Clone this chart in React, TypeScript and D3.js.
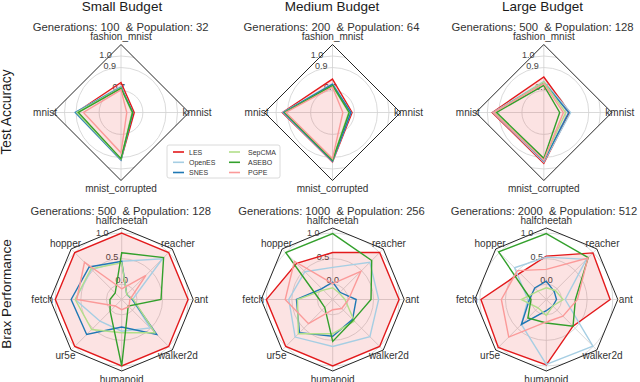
import React from "react";
import * as d3 from "d3";

const W = 640;
const H = 382;
const FONT = "'Liberation Sans', Arial, sans-serif";

const budgets = ["Small Budget", "Medium Budget", "Large Budget"];
const visionSubtitles = [
  "Generations: 100  & Population: 32",
  "Generations: 200  & Population: 64",
  "Generations: 500  & Population: 128",
];
const braxSubtitles = [
  "Generations: 500  & Population: 128",
  "Generations: 1000  & Population: 256",
  "Generations: 2000  & Population: 512",
];
const rowLabels = ["Test Accuracy", "Brax Performance"];

const methods = ["LES", "OpenES", "SNES", "SepCMA", "ASEBO", "PGPE"];
const methodColors = ["#e31a1c", "#a6cee3", "#1f78b4", "#b2df8a", "#33a02c", "#fb9a99"];

const visionTasks = ["fashion_mnist", "kmnist", "mnist_corrupted", "mnist"];
const visionTicks = [0.7, 0.9, 1.0];
const visionTickLabels = ["0.7", "0.9", "1.0"];
const visionDomain = [0.51, 1.1];

const braxTasks = ["halfcheetah", "reacher", "ant", "walker2d", "humanoid", "ur5e", "fetch", "hopper"];
const braxTicks = [0.0, 0.5, 1.0];
const braxTickLabels = ["0.0", "0.5", "1.0"];
const braxDomain = [-0.3, 1.1];

// rows: LES, OpenES, SNES, SepCMA, ASEBO, PGPE
const visionSmall = [
  [0.77, 0.625, 0.92, 0.9],
  [0.735, 0.61, 0.925, 0.91],
  [0.73, 0.612, 0.92, 0.905],
  [0.725, 0.605, 0.915, 0.895],
  [0.72, 0.61, 0.91, 0.88],
  [0.706, 0.56, 0.86, 0.836],
];
const visionMedium = [
  [0.8, 0.68, 0.94, 0.945],
  [0.76, 0.67, 0.935, 0.94],
  [0.755, 0.67, 0.93, 0.935],
  [0.74, 0.65, 0.92, 0.925],
  [0.745, 0.655, 0.925, 0.925],
  [0.73, 0.6, 0.91, 0.915],
];
const visionLarge = [
  [0.818, 0.735, 0.95, 0.957],
  [0.78, 0.743, 0.94, 0.95],
  [0.77, 0.726, 0.93, 0.94],
  [0.775, 0.7, 0.92, 0.935],
  [0.746, 0.648, 0.908, 0.92],
  [0.76, 0.68, 0.925, 0.945],
];

const braxSmall = [
  [1, 1, 1, 1, 1, 1, 1, 1],
  [0.45, 0.83, -0.09, 0.49, 0.32, 0.3, 0.61, 0.53],
  [0.45, -0.16, -0.09, 0.67, 0.24, 0.67, 0.69, 0.6],
  [0.42, -0.16, -0.07, 0.62, 0.35, 0.53, 0.61, 0.55],
  [0.615, 0.86, 0.47, -0.12, 1.0, 0.02, -0.07, -0.12],
  [-0.09, 0.37, -0.14, -0.1, -0.1, -0.12, 0.58, 0.73],
];
const braxMedium = [
  [0.62, 1.0, 1.0, 1.0, 1.0, 1.0, 1.0, 0.7],
  [0.33, 0.73, 0.6, 0.73, 0.62, 0.74, 0.56, 0.47],
  [0.04, -0.1, 0.16, 0.25, 0.42, 0.62, 0.41, 0.0],
  [-0.07, -0.12, -0.06, 0.3, 0.37, 0.65, 0.39, -0.04],
  [0.99, 0.78, 0.45, 0.27, 0.52, -0.08, -0.04, 1.0],
  [0.01, 0.48, 0.01, -0.05, -0.1, 0.37, 0.63, 0.76],
];
const braxLarge = [
  [0.55, 0.99, 0.95, 0.44, 0.98, 1.03, 0.98, 0.43],
  [0.53, 0.81, 0.07, 0.99, 0.97, 0.39, 0.06, 0.58],
  [0.06, -0.08, -0.1, -0.12, -0.08, 0.39, 0.03, 0.02],
  [-0.07, -0.05, 0.03, -0.12, 0.01, -0.07, 0.19, -0.07],
  [0.99, 0.86, 0.27, 0.44, 0.16, 0.21, 0.0, 1.02],
  [0.29, 0.85, 0.31, 0.16, 0.14, 0.74, 0.58, 0.5],
];

const visionData = [visionSmall, visionMedium, visionLarge];
const braxData = [braxSmall, braxMedium, braxLarge];

const topX = [121, 332.5, 543.8];
const botX = [121.7, 332.7, 546.3];
const titleX = [122, 332, 542.5];
const subTopX = [120.7, 331.5, 542.5];
const subBotX = [120.7, 331.5, 544];

type RadarProps = {
  id: string;
  cx: number;
  cy: number;
  R: number;
  tasks: string[];
  domain: number[];
  ticks: number[];
  tickLabels: string[];
  series: number[][];
};

function Radar({ id, cx, cy, R, tasks, domain, ticks, tickLabels, series }: RadarProps) {
  const n = tasks.length;
  const angle = d3.scaleLinear().domain([0, n]).range([0, 2 * Math.PI]);
  const r = d3.scaleLinear().domain(domain).range([0, R]);
  const vertices: [number, number][] = tasks.map((_, i) => [
    R * Math.sin(angle(i)),
    -R * Math.cos(angle(i)),
  ]);
  const framePath = d3.line().curve(d3.curveLinearClosed)(vertices) || "";
  const radial = d3
    .lineRadial<number>()
    .angle((_, i) => angle(i))
    .radius((d) => r(d))
    .curve(d3.curveLinearClosed);
  const labelR = R + 8;
  const labelAngle = -Math.PI / 8;

  return (
    <g transform={`translate(${cx},${cy})`}>
      <defs>
        <clipPath id={id}>
          <path d={framePath} />
        </clipPath>
      </defs>
      <path d={framePath} fill="#ffffff" stroke="none" />
      <g clipPath={`url(#${id})`}>
        {ticks.map((t, i) => (
          <circle key={i} r={r(t)} fill="none" stroke="#d0d0d0" strokeWidth={0.8} />
        ))}
      </g>
      {vertices.map((v, i) => (
        <line key={i} x1={0} y1={0} x2={v[0]} y2={v[1]} stroke="#d0d0d0" strokeWidth={0.8} />
      ))}
      {ticks.map((t, i) => (
        <text
          key={i}
          x={r(t) * Math.sin(labelAngle) + 6}
          y={-r(t) * Math.cos(labelAngle) - 5}
          textAnchor="middle"
          dominantBaseline="central"
          fontSize={9}
          fontFamily={FONT}
          fill="#444"
        >
          {tickLabels[i]}
        </text>
      ))}
      <path d={radial(series[0]) || ""} fill={methodColors[0]} fillOpacity={0.12} stroke="none" />
      {series.map((s, k) => (
        <path
          key={k}
          d={radial(s) || ""}
          fill="none"
          stroke={methodColors[k]}
          strokeWidth={1.4}
          strokeLinejoin="miter"
        />
      ))}
      <path d={framePath} fill="none" stroke="#262626" strokeWidth={1} />
      {tasks.map((t, i) => (
        <text
          key={t}
          x={labelR * Math.sin(angle(i))}
          y={-labelR * Math.cos(angle(i))}
          textAnchor="middle"
          dominantBaseline="central"
          fontSize={10}
          fontFamily={FONT}
          fill="#333"
        >
          {t}
        </text>
      ))}
    </g>
  );
}

function Legend() {
  const x0 = 167;
  const y0 = 145;
  const rows = 3;
  const colLineX = [173, 229];
  const colTextX = [189, 248];
  const rowY = [152, 162.3, 172.5];
  return (
    <g>
      <rect
        x={x0}
        y={y0}
        width={113}
        height={33}
        rx={2}
        fill="#ffffff"
        fillOpacity={0.85}
        stroke="#d0d0d0"
        strokeWidth={0.8}
      />
      {methods.map((m, i) => {
        const c = Math.floor(i / rows);
        const rr = i % rows;
        return (
          <g key={m}>
            <line
              x1={colLineX[c]}
              x2={colLineX[c] + 11}
              y1={rowY[rr]}
              y2={rowY[rr]}
              stroke={methodColors[i]}
              strokeWidth={1.6}
            />
            <text
              x={colTextX[c]}
              y={rowY[rr]}
              dominantBaseline="central"
              fontSize={7}
              fontFamily={FONT}
              fill="#333"
            >
              {m}
            </text>
          </g>
        );
      })}
    </g>
  );
}

export default function App() {
  return (
    <svg
      width={W}
      height={H}
      viewBox={`0 0 ${W} ${H}`}
      style={{ position: "absolute", left: 0, top: 0, background: "#fff" }}
    >
      <rect width={W} height={H} fill="#fff" />
      {budgets.map((b, i) => (
        <text
          key={b}
          x={titleX[i]}
          y={11}
          textAnchor="middle"
          fontSize={13.5}
          fontFamily={FONT}
          fill="#1a1a1a"
        >
          {b}
        </text>
      ))}
      {visionSubtitles.map((s, i) => (
        <text
          key={s}
          x={subTopX[i]}
          y={31}
          textAnchor="middle"
          fontSize={11.3}
          fontFamily={FONT}
          fill="#333"
          style={{ whiteSpace: "pre" }}
        >
          {s}
        </text>
      ))}
      {braxSubtitles.map((s, i) => (
        <text
          key={s}
          x={subBotX[i]}
          y={214.5}
          textAnchor="middle"
          fontSize={11.2}
          fontFamily={FONT}
          fill="#333"
          style={{ whiteSpace: "pre" }}
        >
          {s}
        </text>
      ))}
      <text
        transform="translate(10.5,112) rotate(-90)"
        textAnchor="middle"
        fontSize={13.8}
        fontFamily={FONT}
        fill="#1a1a1a"
      >
        {rowLabels[0]}
      </text>
      <text
        transform="translate(10.5,294) rotate(-90)"
        textAnchor="middle"
        fontSize={13.6}
        fontFamily={FONT}
        fill="#1a1a1a"
      >
        {rowLabels[1]}
      </text>
      {visionData.map((d, i) => (
        <Radar
          key={`v${i}`}
          id={`clipv${i}`}
          cx={topX[i]}
          cy={112.5}
          R={68}
          tasks={visionTasks}
          domain={visionDomain}
          ticks={visionTicks}
          tickLabels={visionTickLabels}
          series={d}
        />
      ))}
      {braxData.map((d, i) => (
        <Radar
          key={`b${i}`}
          id={`clipb${i}`}
          cx={botX[i]}
          cy={299.5}
          R={71.5}
          tasks={braxTasks}
          domain={braxDomain}
          ticks={braxTicks}
          tickLabels={braxTickLabels}
          series={d}
        />
      ))}
      <Legend />
    </svg>
  );
}
